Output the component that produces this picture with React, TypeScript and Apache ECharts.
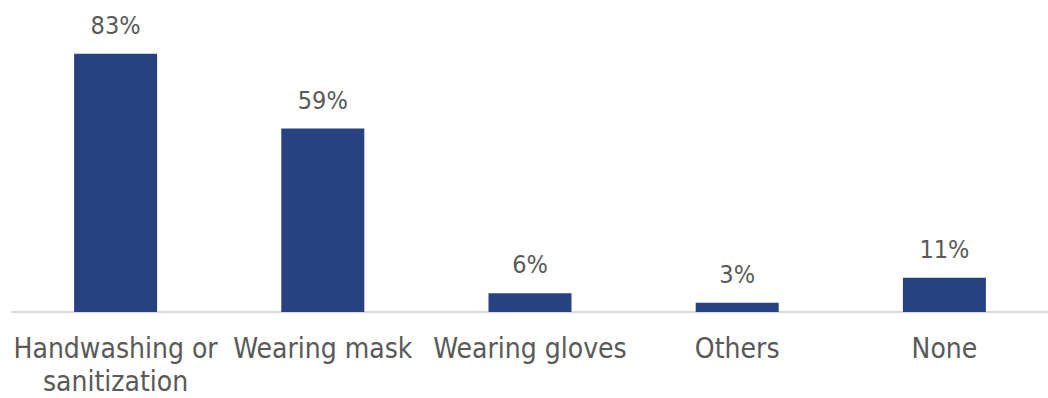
import React, { useEffect, useRef } from "react";
import * as echarts from "echarts";

const categories = ["Handwashing or\nsanitization", "Wearing mask", "Wearing gloves", "Others", "None"];
const values = [83, 59, 6, 3, 11];

export default function App() {
  const ref = useRef<HTMLDivElement>(null);
  useEffect(() => {
    if (!ref.current) return;
    document.body.style.margin = "0";
    document.body.style.overflow = "hidden";
    const chart = echarts.init(ref.current, null, { renderer: "svg" });
    chart.setOption({
      animation: false,
      grid: { left: 12, top: 1, width: 1043, height: 317, containLabel: false },
      xAxis: {
        type: "category",
        data: categories,
        axisLine: { show: true, lineStyle: { color: "#D9D9D9", width: 2 } },
        axisTick: { show: false },
        axisLabel: {
          interval: 0,
          color: "#595959",
          fontFamily: "DejaVu Sans Condensed",
          fontSize: 28,
          lineHeight: 33,
          margin: 20,
        },
      },
      yAxis: {
        type: "value",
        min: 0,
        max: 100,
        show: false,
        splitLine: { show: false },
      },
      series: [
        {
          type: "bar",
          data: values,
          barWidth: 83,
          itemStyle: { color: "#284180" },
          label: {
            show: true,
            position: "top",
            distance: 16,
            formatter: "{c}%",
            color: "#595959",
            fontFamily: "DejaVu Sans Condensed",
            fontSize: 25,
          },
        },
      ],
    });
    return () => chart.dispose();
  }, []);
  return <div ref={ref} style={{ width: 1048, height: 398, background: "#fff" }} />;
}
